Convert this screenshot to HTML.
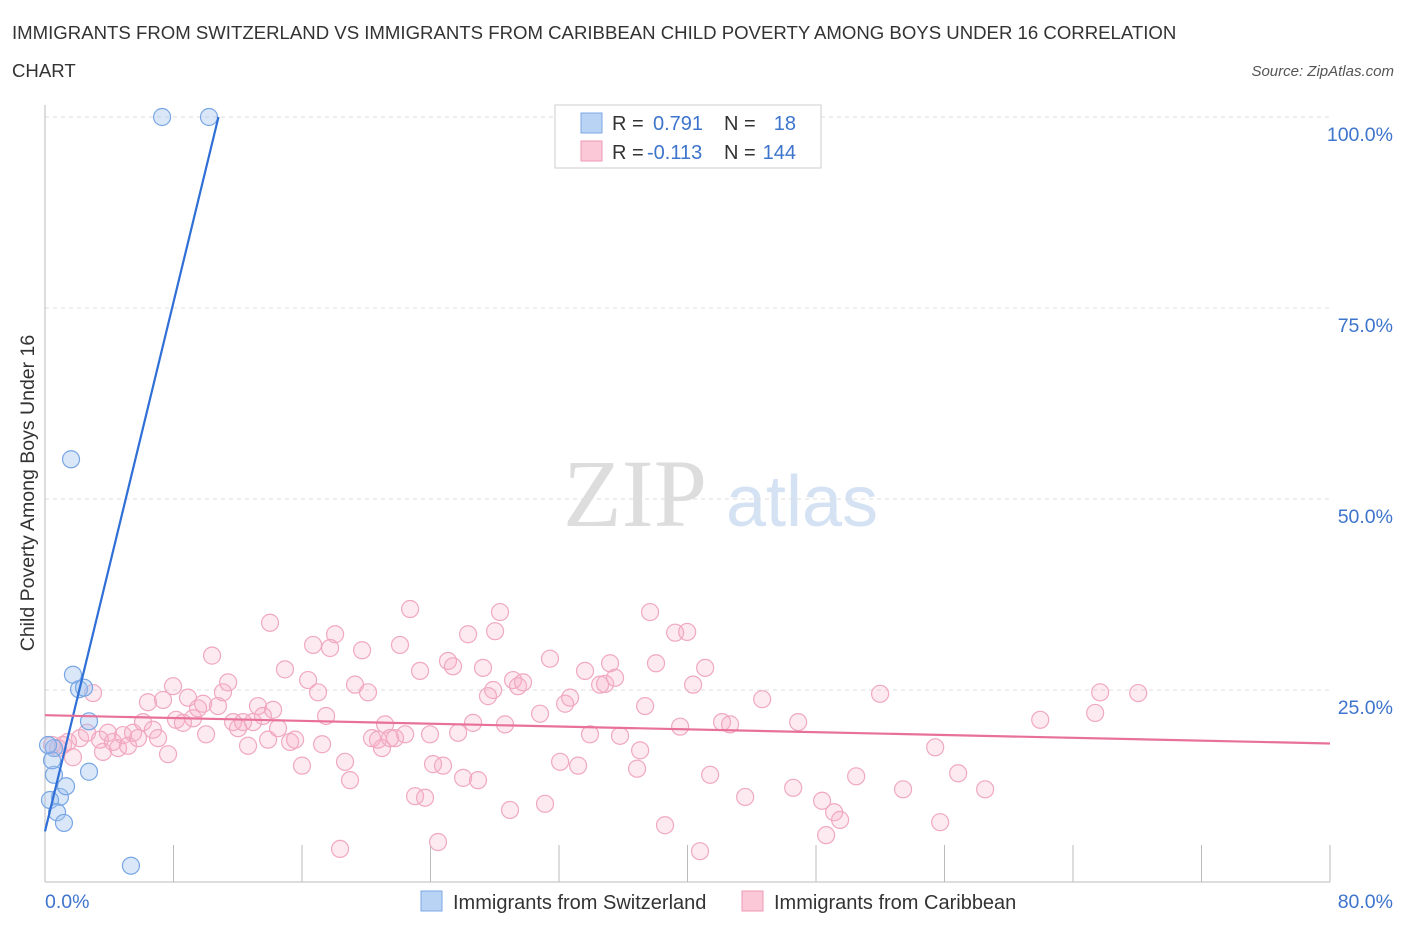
<!DOCTYPE html>
<html><head><meta charset="utf-8"><style>
body{margin:0;background:#fff;font-family:"Liberation Sans",sans-serif;}
svg text{font-family:"Liberation Sans",sans-serif;}
</style></head><body>
<svg id="chart" width="1406" height="930" xmlns="http://www.w3.org/2000/svg">
<text x="12" y="39" font-size="18.6" fill="#333">IMMIGRANTS FROM SWITZERLAND VS IMMIGRANTS FROM CARIBBEAN CHILD POVERTY AMONG BOYS UNDER 16 CORRELATION</text>
<text x="12" y="77" font-size="18.6" fill="#333">CHART</text>
<text x="1394" y="76" font-size="15" fill="#555" font-style="italic" text-anchor="end">Source: ZipAtlas.com</text>
<text transform="translate(34,493) rotate(-90)" font-size="19.5" fill="#333" text-anchor="middle">Child Poverty Among Boys Under 16</text>
<g>
<text x="635" y="526" font-size="96" fill="#ddd" font-family="Liberation Serif" text-anchor="middle" style="font-family:'Liberation Serif',serif">ZIP</text>
<text x="802" y="526" font-size="72" fill="#d4e2f4" text-anchor="middle">atlas</text>
</g>
<g id="grid"></g><g id="axes"></g><g id="pts"></g><g id="lines"></g>
<g>
<rect x="555" y="105" width="266" height="63" fill="#fff" stroke="#ccc"/>
<rect x="581" y="113" width="21" height="20" fill="#b9d3f5" stroke="#7aa7e6"/>
<rect x="581" y="141" width="21" height="20" fill="#fac8d7" stroke="#ee9ab4"/>
<text x="612" y="130" font-size="20" fill="#333">R = </text><text x="653" y="130" font-size="20" fill="#3d74cc">0.791</text>
<text x="724" y="130" font-size="20" fill="#333">N = </text><text x="796" y="130" font-size="20" fill="#3d74cc" text-anchor="end">18</text>
<text x="612" y="159" font-size="20" fill="#333">R = </text><text x="647" y="159" font-size="20" fill="#3d74cc">-0.113</text>
<text x="724" y="159" font-size="20" fill="#333">N = </text><text x="796" y="159" font-size="20" fill="#3d74cc" text-anchor="end">144</text>
</g>
<g>
<rect x="421" y="891" width="21" height="20" fill="#b9d3f5" stroke="#7aa7e6"/>
<text x="453" y="909" font-size="20" fill="#333">Immigrants from Switzerland</text>
<rect x="742" y="891" width="21" height="20" fill="#fac8d7" stroke="#ee9ab4"/>
<text x="774" y="909" font-size="20" fill="#333">Immigrants from Caribbean</text>
</g>
</svg>
<script>
const xTicks=[0,8,16,24,32,40,48,56,64,72,80];
const yTicks=[25,50,75,100];
const yTickLabels=["25.0%","50.0%","75.0%","100.0%"];
const swissX=[7.29,10.21,1.62,1.74,2.12,2.43,2.74,2.74,0.56,0.56,0.93,0.31,0.75,1.31,1.18,5.35,0.44,0.19];
const swissY=[100,100,55.2,27.0,25.1,25.3,20.9,14.3,17.4,13.9,11.0,10.6,9.0,12.4,7.6,2.0,15.8,17.8];
const caribX=[0.44,0.81,1.12,1.43,1.74,2.18,2.62,2.99,3.42,3.61,3.92,4.23,4.55,4.86,5.17,5.48,5.79,6.10,6.41,6.72,7.04,7.35,7.66,7.97,8.16,8.59,8.90,9.22,9.53,9.84,10.03,10.40,10.77,11.08,11.40,11.71,12.02,12.33,12.64,12.95,13.26,13.57,13.89,14.01,14.20,14.51,14.94,15.26,15.57,16.00,16.38,16.69,17.0,17.25,17.50,17.75,18.06,18.37,18.68,18.99,19.30,19.74,20.11,20.36,20.73,20.98,21.17,21.48,21.79,22.10,22.42,22.73,23.04,23.35,23.66,23.97,24.16,24.47,24.78,25.09,25.40,25.72,26.03,26.34,26.65,26.96,27.27,27.58,27.90,28.02,28.33,28.64,28.95,29.14,29.45,29.76,30.82,31.13,31.44,32.07,32.38,32.69,33.19,33.62,33.93,34.56,34.87,35.18,35.49,35.80,36.86,37.05,37.36,37.67,38.04,38.60,39.23,39.54,39.98,40.35,40.78,41.10,41.41,42.15,42.65,43.59,44.65,46.58,46.89,48.38,48.63,49.13,49.50,50.50,51.99,53.42,55.42,55.73,56.85,58.53,61.96,65.38,65.69,68.06];
const caribY=[17.8,17.4,17.8,18.2,16.2,18.7,19.4,24.6,18.5,16.9,19.4,18.2,17.4,19.1,17.7,19.4,18.7,20.8,23.4,19.8,18.7,23.7,16.6,25.5,21.1,20.7,24.0,21.3,22.6,23.2,19.2,29.5,22.9,24.7,26.0,20.8,20.0,20.8,17.7,20.8,22.9,21.6,18.5,33.8,22.4,20.0,27.7,18.2,18.5,15.1,26.3,30.9,24.7,17.9,21.6,30.5,32.3,4.2,15.6,13.2,25.7,30.2,24.7,18.7,18.5,17.4,20.5,18.7,18.7,30.9,19.2,35.6,11.1,27.5,10.9,19.2,15.3,5.1,15.1,28.8,28.1,19.4,13.5,32.3,20.7,13.2,27.9,24.2,25.0,32.7,35.2,20.5,9.3,26.3,25.5,26.0,21.9,10.1,29.1,15.6,23.2,24.0,15.1,27.5,19.2,25.7,25.8,28.5,26.6,19.0,14.7,17.1,22.9,35.2,28.5,7.3,32.5,20.2,32.6,25.7,3.9,27.9,13.9,20.8,20.5,11.0,23.8,12.2,20.8,10.5,6.0,9.0,8.0,13.7,24.5,12.0,17.5,7.7,14.1,12.0,21.1,22.0,24.7,24.6];
const swissTrendX=[0,10.8];
const swissTrendY=[6.5,100];
const caribTrendX=[0,80];
const caribTrendY=[21.7,18.0];
const NS="http://www.w3.org/2000/svg";
const X=v=>45+v/80*1285, Y=v=>881-v/100*764;
function mk(t,a,p){const e=document.createElementNS(NS,t);for(const k in a)e.setAttribute(k,a[k]);document.getElementById(p).appendChild(e);return e;}
yTicks.forEach((t,i)=>{
 const g=mk('line',{x1:45,x2:1330,y1:Y(t),y2:Y(t),stroke:'#ddd','stroke-dasharray':'4,4'},'grid');
 
 
 const l=mk('text',{x:1393,y:Y(t)+24,'font-size':19.5,fill:'#3d74cc','text-anchor':'end'},'axes');
 l.textContent=yTickLabels[i];
 
 
});
const ax=mk('line',{x1:45,x2:1330,y1:882,y2:882,stroke:'#bbb'},'axes');


const ay=mk('line',{x1:45,x2:45,y1:105,y2:882,stroke:'#bbb'},'axes');


xTicks.forEach(t=>{
 const k=mk('line',{x1:X(t),x2:X(t),y1:845,y2:882,stroke:'#bbb'},'axes');
 
 
});
const x0=mk('text',{x:45,y:908,'font-size':19.5,fill:'#3d74cc'},'axes');x0.textContent='0.0%';


const x1=mk('text',{x:1393,y:908,'font-size':19.5,fill:'#3d74cc','text-anchor':'end'},'axes');x1.textContent='80.0%';


caribX.forEach((v,i)=>{
 const c=mk('circle',{cx:X(v),cy:Y(caribY[i]),r:8.5,fill:'rgba(246,170,196,0.25)',stroke:'#f0a8c0','stroke-width':1.2},'pts');
 
 
});
swissX.forEach((v,i)=>{
 const c=mk('circle',{cx:X(v),cy:Y(swissY[i]),r:8.5,fill:'rgba(160,196,240,0.4)',stroke:'#78a6e4','stroke-width':1.2},'pts');
 
 
});
const tl1=mk('line',{x1:X(swissTrendX[0]),y1:Y(swissTrendY[0]),x2:X(swissTrendX[1]),y2:Y(swissTrendY[1]),stroke:'#2f6fd6','stroke-width':2.2},'lines');


const tl2=mk('line',{x1:X(caribTrendX[0]),y1:Y(caribTrendY[0]),x2:X(caribTrendX[1]),y2:Y(caribTrendY[1]),stroke:'#e8719a','stroke-width':2.2},'lines');


</script>
</body></html>
